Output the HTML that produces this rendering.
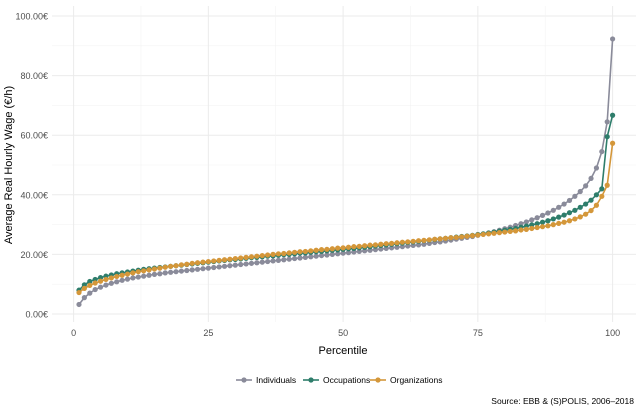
<!DOCTYPE html>
<html><head><meta charset="utf-8"><style>
body{margin:0;background:#fff;}
svg{display:block;font-family:"Liberation Sans",Arial,sans-serif;}
</style></head><body>
<svg id="chart" width="639" height="409">
<g id="grid"></g>
<g id="axes"></g>
<g id="series"></g>
<text x="12" y="165" transform="rotate(-90 12 165)" text-anchor="middle" font-size="11" fill="#000">Average Real Hourly Wage (€/h)</text>
<text x="343" y="354" text-anchor="middle" font-size="11" fill="#000">Percentile</text>
<g id="legend"></g>
<text x="634" y="404" text-anchor="end" font-size="8.5" fill="#000">Source: EBB &amp; (S)POLIS, 2006–2018</text>
</svg>
<script>
const seriesNames = ["Individuals","Occupations","Organizations"];
const seriesColors = ["#8a8b9a","#2e7d6b","#d4973a"];
const xTicks = [0,25,50,75,100];
const yTicks = [0,20,40,60,80,100];
const yTickLabels = ["0.00€","20.00€","40.00€","60.00€","80.00€","100.00€"];
const individuals = [3.2,5.5,7.0,8.2,9.0,9.7,10.3,10.8,11.3,11.7,
12.1,12.4,12.7,13.0,13.3,13.5,13.8,14.0,14.2,14.4,
14.6,14.8,15.0,15.2,15.4,15.6,15.8,16.0,16.2,16.4,
16.6,16.8,17.0,17.2,17.4,17.6,17.8,18.0,18.2,18.4,
18.6,18.8,19.0,19.2,19.4,19.6,19.8,20.0,20.2,20.4,
20.6,20.8,21.0,21.2,21.4,21.6,21.8,22.0,22.2,22.4,
22.6,22.8,23.0,23.2,23.4,23.7,24.0,24.2,24.5,24.8,
25.1,25.4,25.7,26.0,26.4,26.8,27.2,27.6,28.1,28.6,
29.1,29.7,30.3,30.9,31.6,32.3,33.1,33.9,34.8,35.8,
36.9,38.1,39.5,41.1,43.0,45.5,49.0,54.5,64.5,92.3];
const occupations = [8.0,9.8,10.9,11.6,12.2,12.7,13.1,13.5,13.8,14.1,
14.4,14.7,15.0,15.2,15.4,15.6,15.8,16.0,16.2,16.4,
16.6,16.8,17.0,17.2,17.4,17.6,17.8,18.0,18.2,18.3,
18.5,18.7,18.9,19.0,19.2,19.4,19.5,19.7,19.9,20.0,
20.2,20.4,20.5,20.7,20.9,21.0,21.2,21.4,21.5,21.7,
21.9,22.0,22.2,22.4,22.6,22.8,23.0,23.2,23.4,23.6,
23.8,24.0,24.2,24.4,24.6,24.8,25.0,25.2,25.4,25.6,
25.8,26.0,26.2,26.4,26.7,26.9,27.2,27.5,27.8,28.1,
28.4,28.7,29.1,29.5,29.9,30.3,30.8,31.3,31.9,32.5,
33.2,34.0,34.8,35.8,36.9,38.2,40.0,42.0,59.5,66.7];
const organizations = [7.2,8.6,9.6,10.4,11.0,11.6,12.1,12.6,13.0,13.4,
13.8,14.2,14.5,14.8,15.1,15.4,15.7,16.0,16.2,16.5,
16.7,17.0,17.2,17.4,17.6,17.8,18.0,18.2,18.4,18.6,
18.8,19.0,19.2,19.4,19.6,19.8,20.0,20.2,20.3,20.5,
20.7,20.9,21.0,21.2,21.4,21.6,21.7,21.9,22.1,22.2,
22.4,22.6,22.7,22.9,23.1,23.2,23.4,23.6,23.7,23.9,
24.1,24.2,24.4,24.6,24.7,24.9,25.1,25.2,25.4,25.6,
25.7,25.9,26.1,26.3,26.5,26.7,26.9,27.1,27.3,27.5,
27.7,27.9,28.2,28.4,28.7,29.0,29.3,29.6,30.0,30.4,
30.8,31.3,31.9,32.6,33.5,34.7,36.5,39.5,43.2,57.3];
const allSeries = [individuals, occupations, organizations];

const NS="http://www.w3.org/2000/svg";
const X0=52, X1=636, Y0=6, Y1=322;
function xs(p){return 73.6+5.39*p;}
function ys(v){return 314-2.98*v;}
function mk(tag,attrs,parent){const e=document.createElementNS(NS,tag);for(const k in attrs)e.setAttribute(k,attrs[k]);parent.appendChild(e);return e;}
const grid=document.getElementById('grid'), axes=document.getElementById('axes'), ser=document.getElementById('series'), leg=document.getElementById('legend');

for(let i=0;i<yTicks.length;i++){
  if(i<yTicks.length-1){const m=(yTicks[i]+yTicks[i+1])/2;
    const l=mk('line',{x1:X0,x2:X1,y1:ys(m),y2:ys(m),stroke:'#f3f3f3','stroke-width':0.6},grid);
    
    }
  const g=mk('line',{x1:X0,x2:X1,y1:ys(yTicks[i]),y2:ys(yTicks[i]),stroke:'#ebebeb','stroke-width':1},grid);
  
  
  const t=mk('text',{x:48,y:ys(yTicks[i])+3.5,'text-anchor':'end','font-size':9,fill:'#4d4d4d'},axes);
  t.textContent=yTickLabels[i];
  
  
}
for(let i=0;i<xTicks.length;i++){
  if(i<xTicks.length-1){const m=(xTicks[i]+xTicks[i+1])/2;
    const l=mk('line',{x1:xs(m),x2:xs(m),y1:Y0,y2:Y1,stroke:'#f3f3f3','stroke-width':0.6},grid);
    
    }
  const g=mk('line',{x1:xs(xTicks[i]),x2:xs(xTicks[i]),y1:Y0,y2:Y1,stroke:'#ebebeb','stroke-width':1},grid);
  
  
  const t=mk('text',{x:xs(xTicks[i]),y:336,'text-anchor':'middle','font-size':9,fill:'#4d4d4d'},axes);
  t.textContent=xTicks[i];
  
  
}
allSeries.forEach((data,si)=>{
  const g=mk('g',{},ser);
  
  
  const pts=data.map((v,i)=>xs(i+1)+','+ys(v)).join(' ');
  const pl=mk('polyline',{points:pts,fill:'none',stroke:seriesColors[si],'stroke-width':1.6},g);
  
  
  data.forEach((v,i)=>{
    const c=mk('circle',{cx:xs(i+1),cy:ys(v),r:2.6,fill:seriesColors[si]},g);
    
    
  });
});
const legX=[244,311,378];
seriesNames.forEach((n,i)=>{
  const g=mk('g',{},leg);
  
  
  mk('line',{x1:legX[i]-8,x2:legX[i]+8,y1:380,y2:380,stroke:seriesColors[i],'stroke-width':1.6},g);
  mk('circle',{cx:legX[i],cy:380,r:2.6,fill:seriesColors[i]},g);
  const t=mk('text',{x:legX[i]+12,y:383,'font-size':8.5,fill:'#000'},g);
  t.textContent=n;
});
</script>
</body></html>
